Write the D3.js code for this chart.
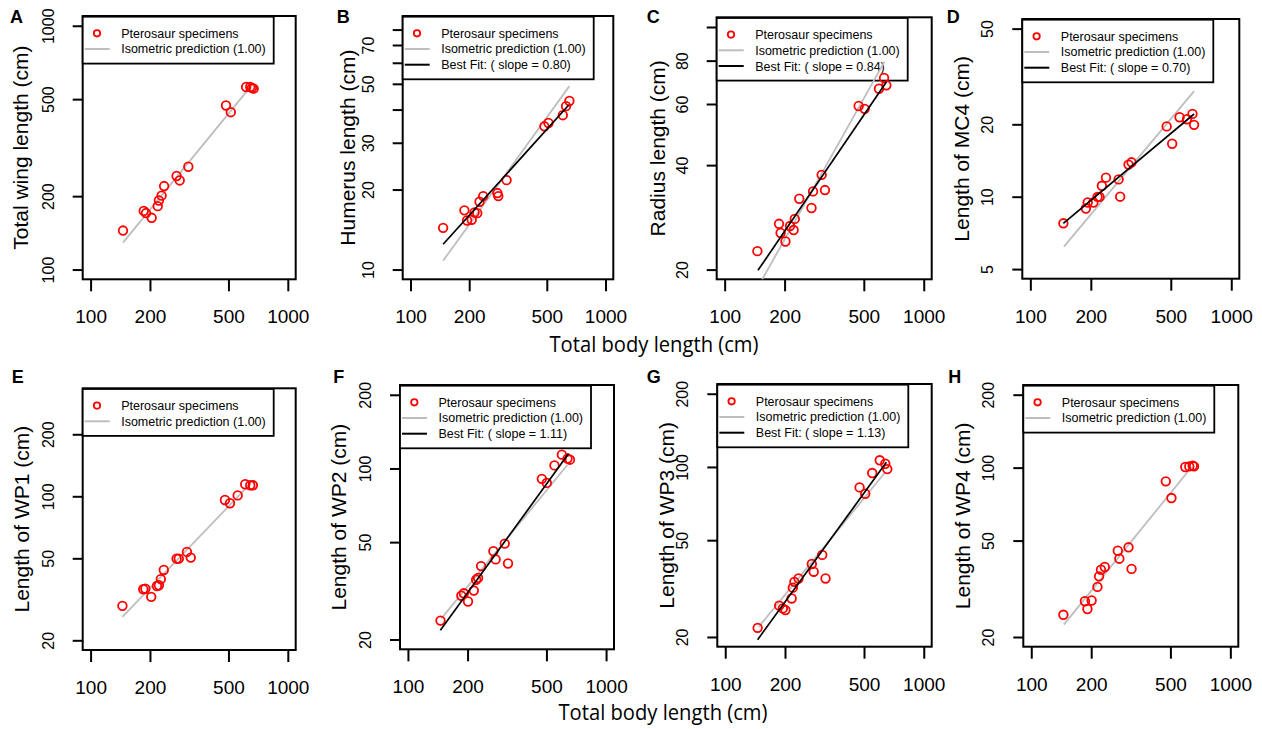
<!DOCTYPE html>
<html>
<head>
<meta charset="utf-8">
<script src="https://cdn.jsdelivr.net/npm/d3@7"></script>
<style>
  body { margin: 0; background: #fff; }
  svg { display: block; font-family: "Liberation Sans", Arial, sans-serif; }
</style>
</head>
<body>
<svg id="fig" width="1262" height="729"></svg>
<script>
// body length (cm) and element length (cm)
const bodyA = [146, 186, 191, 204, 219, 222, 229, 236, 273, 283, 313, 486, 514, 615, 645, 658, 671];
const wingA = [144.5, 174, 170.5, 163, 182, 192, 201, 220, 242, 232, 264, 471, 442, 561, 561, 556, 552];

const bodyB = [147, 189, 195, 206, 213, 220, 226, 236, 279, 282, 311, 486, 510, 604, 628, 653];
const humerusB = [14.35, 16.7, 15.3, 15.4, 16.4, 16.3, 18.0, 18.9, 19.4, 18.9, 21.7, 34.6, 35.6, 38.1, 41.2, 43.1];

const bodyC = [146, 187.5, 191, 202, 213, 222, 225, 237, 273, 278, 307, 319, 471, 505, 596, 632, 649];
const radiusC = [22.6, 27.1, 25.5, 24.1, 26.7, 26.0, 28.0, 32.0, 30.1, 33.6, 37.5, 33.9, 59.2, 58.1, 66.4, 71.3, 67.9];

const bodyD = [146, 189, 193, 206, 216, 221, 227, 238, 275, 280, 308, 319, 477, 508, 553, 602, 641, 653];
const mc4D = [7.75, 8.93, 9.46, 9.46, 9.98, 9.98, 11.1, 12.0, 11.8, 10.0, 13.6, 13.9, 19.6, 16.6, 21.4, 21.0, 22.1, 19.9];

const bodyE = [145, 185, 189.5, 203, 217, 222, 227, 235, 273, 280, 308, 322, 480, 509, 557, 608, 645, 665];
const wp1E = [29.4, 35.4, 35.6, 32.5, 36.7, 37.0, 39.6, 43.9, 49.8, 49.8, 53.7, 50.4, 96.0, 92.5, 101, 114.4, 113.1, 113.1];

const bodyF = [146, 186, 191.5, 201, 215, 221, 226, 234, 270, 277, 308, 320, 474, 502, 549, 598, 639, 657];
const wp2F = [23.9, 30.2, 30.9, 28.6, 31.7, 35.1, 35.7, 39.9, 45.9, 42.5, 49.3, 40.9, 90.7, 87.3, 102.9, 113.9, 109.7, 108.6];

const bodyG = [145.6, 187, 195, 201, 216, 219, 223, 234, 273, 279, 308, 320, 475, 507, 550, 600, 640, 655];
const wp3G = [21.8, 26.9, 26.2, 25.8, 28.8, 31.9, 33.7, 34.8, 39.9, 37.1, 43.5, 34.8, 82.4, 77.6, 94.4, 106.5, 103.1, 98.0];

const bodyH = [145, 186, 191.5, 201, 215, 219, 224, 234, 272, 277, 308, 319, 474, 506, 594, 622, 647, 657];
const wp4H = [24.7, 28.1, 26.1, 28.3, 32.2, 35.6, 37.9, 38.9, 45.4, 42.1, 46.9, 38.2, 87.8, 74.9, 100.6, 101.2, 101.9, 101.2];

// isometric (slope 1) and best-fit line end points [body, element]
const isoA = [[146, 129], [640, 556]];
const isoB = [[147, 10.8], [653, 49]];
const fitB = [[147, 12.45], [648, 41.6]];
const isoC = [[146, 17.7], [635, 79.5]];
const fitC = [[147, 19.9], [649, 69.4]];
const isoD = [[147, 6.2], [653, 27.5]];
const fitD = [[146, 7.75], [653, 22.07]];
const isoE = [[145, 26.0], [649, 115.7]];
const isoF = [[147.6, 24.4], [639, 103.6]];
const fitF = [[145.8, 21.8], [647, 115]];
const isoG = [[147.4, 22.0], [635, 94.4]];
const fitG = [[145.6, 19.5], [648, 104.5]];
const isoH = [[145.8, 22.5], [639, 100.6]];

const xTicks = [100, 200, 500, 1000];
const xlim = [100, 1000];

const panels = [
  {id: "A", box: [82.7, 16, 295.7, 279.3], letter: [10, 23], ylim: [100, 1000], yTicks: [100, 200, 500, 1000], yLabels: [100, 200, 500, 1000],
   title: "Total wing length (cm)", titleX: 62, x: bodyA, y: wingA, iso: isoA, fit: null, slope: null},
  {id: "B", box: [402.7, 16, 613.3, 279.3], letter: [336.7, 23], ylim: [10, 82.7], yTicks: [10, 20, 30, 40, 50, 60, 70, 80], yLabels: [10, 20, 30, 50, 70],
   title: "Humerus length (cm)", titleX: 55, x: bodyB, y: humerusB, iso: isoB, fit: fitB, slope: "0.80"},
  {id: "C", box: [716.7, 17.3, 931.7, 279.3], letter: [646.7, 23], ylim: [20, 100], yTicks: [20, 40, 60, 80, 100], yLabels: [20, 40, 60, 80],
   title: "Radius length (cm)", titleX: 58.7, x: bodyC, y: radiusC, iso: isoC, fit: fitC, slope: "0.84"},
  {id: "D", box: [1022.3, 19, 1239.3, 278.7], letter: [946.7, 23], ylim: [5, 50], yTicks: [5, 10, 20, 50], yLabels: [5, 10, 20, 50],
   title: "Length of MC4 (cm)", titleX: 60.6, x: bodyD, y: mc4D, iso: isoD, fit: fitD, slope: "0.70"},
  {id: "E", box: [82.7, 388.3, 295.7, 650], letter: [11.7, 382.5], ylim: [20, 300], yTicks: [20, 50, 100, 200], yLabels: [20, 50, 100, 200],
   title: "Length of WP1 (cm)", titleX: 61, x: bodyE, y: wp1E, iso: isoE, fit: null, slope: null},
  {id: "F", box: [400, 385, 614, 649.3], letter: [333.3, 382.5], ylim: [20, 200], yTicks: [20, 50, 100, 200], yLabels: [20, 50, 100, 200],
   title: "Length of WP2 (cm)", titleX: 61, x: bodyF, y: wp2F, iso: isoF, fit: fitF, slope: "1.11"},
  {id: "G", box: [717.3, 384, 931.7, 646.7], letter: [646.7, 382.5], ylim: [20, 200], yTicks: [20, 50, 100, 200], yLabels: [20, 50, 100, 200],
   title: "Length of WP3 (cm)", titleX: 50.6, x: bodyG, y: wp3G, iso: isoG, fit: fitG, slope: "1.13"},
  {id: "H", box: [1023.3, 385, 1238.3, 646.7], letter: [948.3, 382.5], ylim: [20, 200], yTicks: [20, 50, 100, 200], yLabels: [20, 50, 100, 200],
   title: "Length of WP4 (cm)", titleX: 60.8, x: bodyH, y: wp4H, iso: isoH, fit: null, slope: null}
];

const svg = d3.select("#fig");
const RED = "#ff0000", GREY = "#bebebe";

// R style 4% extension of log limits
function padLog(lim) {
  const a = Math.log10(lim[0]), b = Math.log10(lim[1]), d = (b - a) * 0.04;
  return [Math.pow(10, a - d), Math.pow(10, b + d)];
}

function drawPanel(p) {
  const [x0, y0, x1, y1] = p.box;
  const x = d3.scaleLog().domain(padLog(xlim)).range([x0, x1]);
  const y = d3.scaleLog().domain(padLog(p.ylim)).range([y1, y0]);

  const g = svg.append("g");

  g.append("clipPath").attr("id", "clip" + p.id)
    .append("rect").attr("x", x0).attr("y", y0).attr("width", x1 - x0).attr("height", y1 - y0);

  // x axis
  const xa = g.append("g")
    .attr("transform", `translate(0,${y1})`)
    .call(d3.axisBottom(x).tickValues(xTicks).tickSize(12).tickFormat(d3.format("d")));
  xa.select(".domain").remove();
  xa.selectAll("line").attr("stroke", "#000").attr("stroke-width", 2);
  xa.selectAll("text").attr("y", 44).attr("dy", 0)
    .style("font-size", "19px").style("font-family", "Liberation Sans, Arial, sans-serif").attr("fill", "#000");

  // y axis, labels rotated like R's las = 0
  const ya = g.append("g")
    .attr("transform", `translate(${x0},0)`)
    .call(d3.axisLeft(y).tickValues(p.yTicks).tickSize(10)
      .tickFormat(d => p.yLabels.includes(d) ? String(d) : ""));
  ya.select(".domain").remove();
  ya.selectAll("line").attr("stroke", "#000").attr("stroke-width", 2);
  ya.selectAll("text")
    .attr("transform", "rotate(-90)")
    .attr("x", 0).attr("y", -29).attr("dy", 0)
    .attr("text-anchor", "middle")
    .style("font-size", "16px").style("font-family", "Liberation Sans, Arial, sans-serif").attr("fill", "#000");

  // plot box
  g.append("rect")
    .attr("x", x0).attr("y", y0).attr("width", x1 - x0).attr("height", y1 - y0)
    .attr("fill", "none").attr("stroke", "#000").attr("stroke-width", 2);

  // y title
  g.append("text")
    .attr("transform", `translate(${x0 - p.titleX},${(y0 + y1) / 2}) rotate(-90)`)
    .attr("text-anchor", "middle").attr("dy", "0.35em")
    .style("font-size", "21px")
    .text(p.title);

  // panel letter
  g.append("text")
    .attr("x", p.letter[0]).attr("y", p.letter[1])
    .style("font-size", "18px").style("font-weight", "bold")
    .text(p.id);

  // legend
  const items = [
    {type: "pt", label: "Pterosaur specimens"},
    {type: "iso", label: "Isometric prediction (1.00)"}
  ];
  if (p.fit) items.push({type: "fit", label: `Best Fit: ( slope = ${p.slope})`});
  const lg = g.append("g").attr("transform", `translate(${x0},${y0 + 0.7})`);
  lg.append("rect")
    .attr("width", 191).attr("height", 15.7 * items.length + 15.5)
    .attr("fill", "#fff").attr("stroke", "#000").attr("stroke-width", 1.8);
  items.forEach((it, i) => {
    const ry = 16.6 + i * 15.7;
    if (it.type === "pt") {
      lg.append("circle").attr("cx", 14.3).attr("cy", ry).attr("r", 3.2)
        .attr("fill", "none").attr("stroke", RED).attr("stroke-width", 1.8);
    } else {
      lg.append("line").attr("x1", 2).attr("x2", 27).attr("y1", ry).attr("y2", ry)
        .attr("stroke", it.type === "iso" ? GREY : "#000").attr("stroke-width", 2);
    }
    lg.append("text").attr("x", 38.5).attr("y", ry).attr("dy", "0.36em")
      .style("font-size", "12.5px").text(it.label);
  });

  // lines and points
  const plot = g.append("g").attr("clip-path", `url(#clip${p.id})`);
  const line = d3.line().x(d => x(d[0])).y(d => y(d[1]));
  plot.append("path").datum(p.iso).attr("d", line)
    .attr("fill", "none").attr("stroke", GREY).attr("stroke-width", 1.8);

  const pts = p.x.map((v, i) => [v, p.y[i]]);
  plot.selectAll("circle.pt")
    .data(pts)
    .enter()
    .append("circle")
    .attr("class", "pt")
    .attr("cx", d => x(d[0]))
    .attr("cy", d => y(d[1]))
    .attr("r", 4.3)
    .attr("fill", "none")
    .attr("stroke", RED)
    .attr("stroke-width", 1.8);

  if (p.fit) {
    plot.append("path").datum(p.fit).attr("d", line)
      .attr("fill", "none").attr("stroke", "#000").attr("stroke-width", 1.7);
  }
}

panels.forEach(drawPanel);

// shared x titles
[[654, 345], [663, 713]].forEach(([cx, cy]) => {
  svg.append("text")
    .attr("x", cx).attr("y", cy).attr("dy", "0.35em")
    .attr("text-anchor", "middle")
    .attr("textLength", 209).attr("lengthAdjust", "spacingAndGlyphs")
    .style("font-family", "'Open Sans', 'Noto Sans', sans-serif")
    .style("font-size", "21px")
    .text("Total body length (cm)");
});
</script>
</body>
</html>
